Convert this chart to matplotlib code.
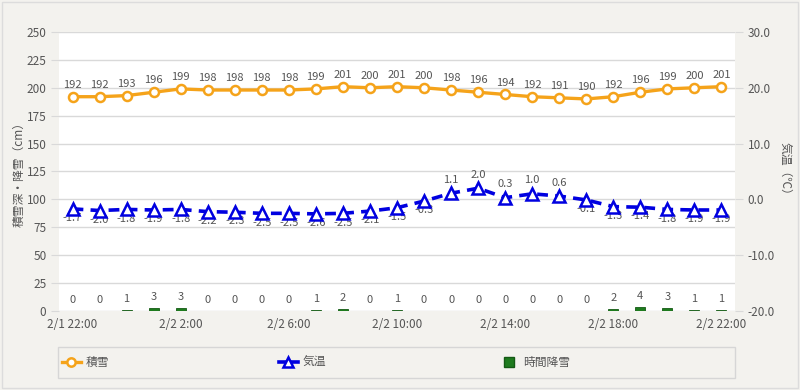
import matplotlib
matplotlib.use("Agg")
import matplotlib.pyplot as plt
from matplotlib.patches import Rectangle
from matplotlib.lines import Line2D

plt.rcParams["font.family"] = ["Noto Sans CJK JP", "DejaVu Sans"]

# --------------------------------------------------------------------------
# Data
# --------------------------------------------------------------------------
hours = list(range(25))
tick_pos = [0, 4, 8, 12, 16, 20, 24]
tick_labels = ["2/1 22:00", "2/2 2:00", "2/2 6:00", "2/2 10:00",
               "2/2 14:00", "2/2 18:00", "2/2 22:00"]

snow_depth = [192, 192, 193, 196, 199, 198, 198, 198, 198, 199, 201, 200, 201,
              200, 198, 196, 194, 192, 191, 190, 192, 196, 199, 200, 201]
temperature = [-1.7, -2.0, -1.8, -1.9, -1.8, -2.2, -2.3, -2.5, -2.5, -2.6, -2.5,
               -2.1, -1.5, -0.3, 1.1, 2.0, 0.3, 1.0, 0.6, -0.1, -1.3, -1.4,
               -1.8, -1.9, -1.9]
snowfall = [0, 0, 1, 3, 3, 0, 0, 0, 0, 1, 2, 0, 1, 0, 0, 0, 0, 0, 0, 0,
            2, 4, 3, 1, 1]

BG = "#f3f2ee"
GRID = "#d9d9d9"
TEXT = "#555555"
ORANGE = "#f5a31a"
BLUE = "#0000e0"
GREEN = "#1e7b1e"

fig = plt.figure(figsize=(8, 3.9), dpi=100, facecolor=BG)
fig.patches.append(Rectangle((0.003, 0.004), 0.994, 0.99, transform=fig.transFigure,
                             fill=False, edgecolor="#dcdcdc", linewidth=1))

ax = fig.add_axes([0.07375, 0.2026, 0.845, 0.7154])
ax.set_facecolor("white")
ax2 = ax.twinx()

# Snowfall bars (left axis)
ax.bar(hours, snowfall, width=0.37, color=GREEN, edgecolor="#145a14",
       linewidth=0.6, zorder=3)
for x, v in zip(hours, snowfall):
    ax.annotate(str(v), (x, v), xytext=(0, 4), textcoords="offset points",
                ha="center", va="bottom", fontsize=8, color=TEXT)

# Snow depth line (left axis)
ax.plot(hours, snow_depth, color=ORANGE, linewidth=2.4, marker="o",
        markersize=6.5, markerfacecolor="white", markeredgecolor=ORANGE,
        markeredgewidth=1.8, zorder=4)
for x, v in zip(hours, snow_depth):
    ax.annotate(str(v), (x, v), xytext=(0, 5), textcoords="offset points",
                ha="center", va="bottom", fontsize=8, color=TEXT)

# Temperature line (right axis)
ax2.plot(hours, temperature, color=BLUE, linewidth=2.6, linestyle=(0, (3, 2)),
         marker="^", markersize=8, markerfacecolor="white",
         markeredgecolor=BLUE, markeredgewidth=1.8, zorder=4)
for x, v in zip(hours, temperature):
    if v >= 0:
        ax2.annotate(f"{v:.1f}", (x, v), xytext=(0, 6), textcoords="offset points",
                     ha="center", va="bottom", fontsize=8, color=TEXT)
    else:
        ax2.annotate(f"{v:.1f}", (x, v), xytext=(0, -3), textcoords="offset points",
                     ha="center", va="top", fontsize=8, color=TEXT)

ax.set_xlim(-0.5, 24.5)
ax.set_ylim(0, 250)
ax.set_yticks(range(0, 251, 25))
ax2.set_ylim(-20, 30)
ax2.set_yticks(range(-20, 31, 10))
ax2.set_yticklabels([f"{t:.1f}" for t in range(-20, 31, 10)])

ax.set_xticks(tick_pos)
ax.set_xticklabels(tick_labels)

ax.grid(axis="y", color=GRID, linewidth=1)
ax.set_axisbelow(True)
for a in (ax, ax2):
    for s in a.spines.values():
        s.set_visible(False)
ax.tick_params(axis="y", length=6, color=GRID, labelcolor=TEXT, labelsize=8.5, pad=3)
ax.tick_params(axis="x", length=0, labelcolor=TEXT, labelsize=8.5, pad=5)
ax2.tick_params(axis="y", length=6, color=GRID, labelcolor=TEXT, labelsize=8.5, pad=3)

ax.set_ylabel("積雪深・降雪（cm）", color=TEXT, fontsize=8.5, labelpad=1)
ax2.set_ylabel("気温（℃）", color=TEXT, fontsize=8.5, rotation=270, labelpad=12)

# Legend: a frame plus three single-entry legends at fixed column starts
fig.patches.append(Rectangle((58 / 800, 12 / 390), 677 / 800, 31 / 390,
                             transform=fig.transFigure, facecolor=BG,
                             edgecolor="#d6d6d6", linewidth=1))
handles = [
    Line2D([], [], color=ORANGE, linewidth=2.4, marker="o", markersize=6,
           markerfacecolor="white", markeredgecolor=ORANGE, markeredgewidth=1.8),
    Line2D([], [], color=BLUE, linewidth=2.6, marker="^",
           markersize=7, markerfacecolor="white", markeredgecolor=BLUE,
           markeredgewidth=1.8),
    Line2D([], [], linestyle="none", marker="s", markersize=7,
           markerfacecolor=GREEN, markeredgecolor="#145a14"),
]
names = ["積雪", "気温", "時間降雪"]
col_x = [62, 279, 500]
for h, name, cx in zip(handles, names, col_x):
    leg = fig.legend([h], [name], loc="center left",
                     bbox_to_anchor=(cx / 800, 27.5 / 390), frameon=False,
                     fontsize=8.5, handlelength=1.6, handletextpad=0.4,
                     borderaxespad=0, borderpad=0)
    for t in leg.get_texts():
        t.set_color(TEXT)

fig.savefig("out.png", dpi=100, facecolor=BG)
